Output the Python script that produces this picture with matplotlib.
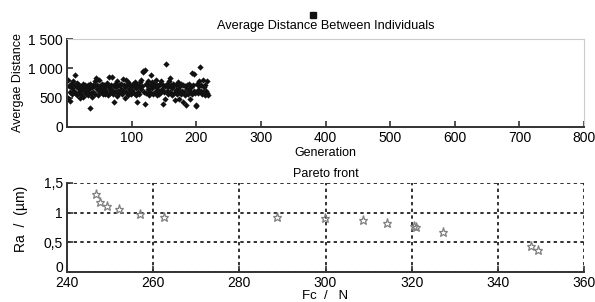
import matplotlib.pyplot as plt
import matplotlib.transforms as mtransforms

plt.rcParams['font.family'] = ['Liberation Sans', 'DejaVu Sans']

# average distance per generation (generations 1..218)
avg_dist = [
    800, 500, 700, 600, 450, 740, 660, 560, 780, 710, 620, 880, 580, 700, 750, 540, 660, 600, 720, 500,
    650, 570, 700, 730, 510, 610, 680, 720, 560, 660, 590, 540, 710, 640, 320, 740, 580, 680, 520, 720,
    600, 700, 780, 570, 840, 640, 720, 540, 620, 810, 700, 590, 670, 740, 560, 650, 720, 640, 570, 700,
    610, 750, 540, 700, 850, 640, 580, 720, 860, 630, 560, 430, 700, 730, 600, 680, 530, 790, 620, 720,
    580, 710, 640, 740, 560, 820, 620, 720, 490, 680, 810, 600, 710, 540, 760, 640, 590, 720, 570, 700,
    630, 740, 580, 710, 770, 540, 660, 430, 720, 600, 700, 560, 760, 640, 810, 700, 940, 960, 600, 400,
    980, 730, 580, 710, 640, 780, 540, 720, 600, 880, 660, 760, 570, 700, 740, 590, 680, 810, 540, 720,
    630, 710, 560, 740, 600, 790, 640, 400, 720, 590, 480, 700, 1080, 620, 740, 570, 680, 790, 840, 600,
    720, 540, 660, 740, 580, 710, 460, 630, 720, 560, 770, 640, 590, 480, 700, 740, 570, 620, 430, 720,
    600, 540, 700, 380, 640, 720, 570, 630, 740, 480, 590, 680, 920, 560, 720, 900, 620, 580, 380, 350,
    740, 630, 580, 790, 700, 1030, 620, 720, 560, 810, 600, 680, 540, 710, 620, 780, 580, 550,
]
generations = list(range(1, len(avg_dist) + 1))

# pareto front points
fc = [246.7, 247.7, 249.2, 252.1, 256.9, 262.6, 288.8, 299.9, 308.7, 314.3, 320.6, 321.0, 327.3, 347.6, 349.3]
ra = [1.31, 1.18, 1.11, 1.06, 0.97, 0.92, 0.92, 0.91, 0.88, 0.83, 0.78, 0.75, 0.67, 0.44, 0.37]

top_xticks = [100, 200, 300, 400, 500, 600, 700, 800]
top_yticks = [0, 500, 1000, 1500]
top_ylabels = ['0', '500', '1 000', '1 500']
bot_xticks = [240, 260, 280, 300, 320, 340, 360]
bot_yticks = [0, 0.5, 1, 1.5]
bot_ylabels = ['0', '0,5', '1', '1,5']

fig = plt.figure(figsize=(5.95, 3.02), dpi=100)
ax1 = fig.add_axes([0.1126, 0.5795, 0.869, 0.291])
ax2 = fig.add_axes([0.1126, 0.0993, 0.869, 0.295])

dark = '#333333'

# top: average distance
ax1.plot(generations, avg_dist, linestyle='none', marker='D', markersize=3.2,
         color='#111111', markeredgewidth=0)
ax1.set_xlim(0, 800)
ax1.set_ylim(0, 1500)
ax1.set_xticks(top_xticks)
ax1.set_yticks(top_yticks)
ax1.set_yticklabels(top_ylabels)
ax1.set_xlabel('Generation', fontsize=9, labelpad=1)
ax1.set_ylabel('Avergae Distance', fontsize=9, labelpad=3)
ax1.set_title('Average Distance Between Individuals', fontsize=9.2, pad=7)
for s in ['top', 'right']:
    ax1.spines[s].set_color('#cccccc')
    ax1.spines[s].set_linewidth(0.8)
for s in ['left', 'bottom']:
    ax1.spines[s].set_color(dark)
    ax1.spines[s].set_linewidth(1.4)
ax1.tick_params(direction='in', length=4, width=1.2, color=dark, labelsize=10, pad=3)

# small legend-like square above title
ax1.plot([0.475], [1.27], marker='s', markersize=5, color='#111111',
         transform=ax1.transAxes, clip_on=False)

# bottom: pareto front
ax2.plot(fc, ra, linestyle='none', marker='*', markersize=6.5,
         markerfacecolor='none', markeredgecolor='#808080', markeredgewidth=0.9)
ax2.set_xlim(240, 360)
ax2.set_ylim(0, 1.5)
ax2.set_xticks(bot_xticks)
ax2.set_yticks(bot_yticks)
ax2.set_yticklabels(bot_ylabels)
ax2.grid(True, color='#111111', linestyle=(0, (2, 2)), linewidth=1.2)
ax2.set_axisbelow(True)
ax2.set_title('Pareto front', fontsize=9, pad=4)
ax2.set_xlabel('Fc  /   N', fontsize=9.5, labelpad=0)
ax2.set_ylabel('Ra  /  (µm)', fontsize=10)
ax2.yaxis.set_label_coords(-0.075, 0.6)
for s in ['top', 'right']:
    ax2.spines[s].set_visible(False)
for s in ['left', 'bottom']:
    ax2.spines[s].set_color(dark)
    ax2.spines[s].set_linewidth(1.4)
ax2.tick_params(direction='in', length=4, width=1.2, color=dark, labelsize=10, pad=3)

# lift the "0" y label a little so it sits just above "240"
zero_lbl = ax2.get_yticklabels()[0]
zero_lbl.set_transform(zero_lbl.get_transform() +
                       mtransforms.ScaledTranslation(0, 4 / 72, fig.dpi_scale_trans))

fig.savefig('out.png', dpi=100)
